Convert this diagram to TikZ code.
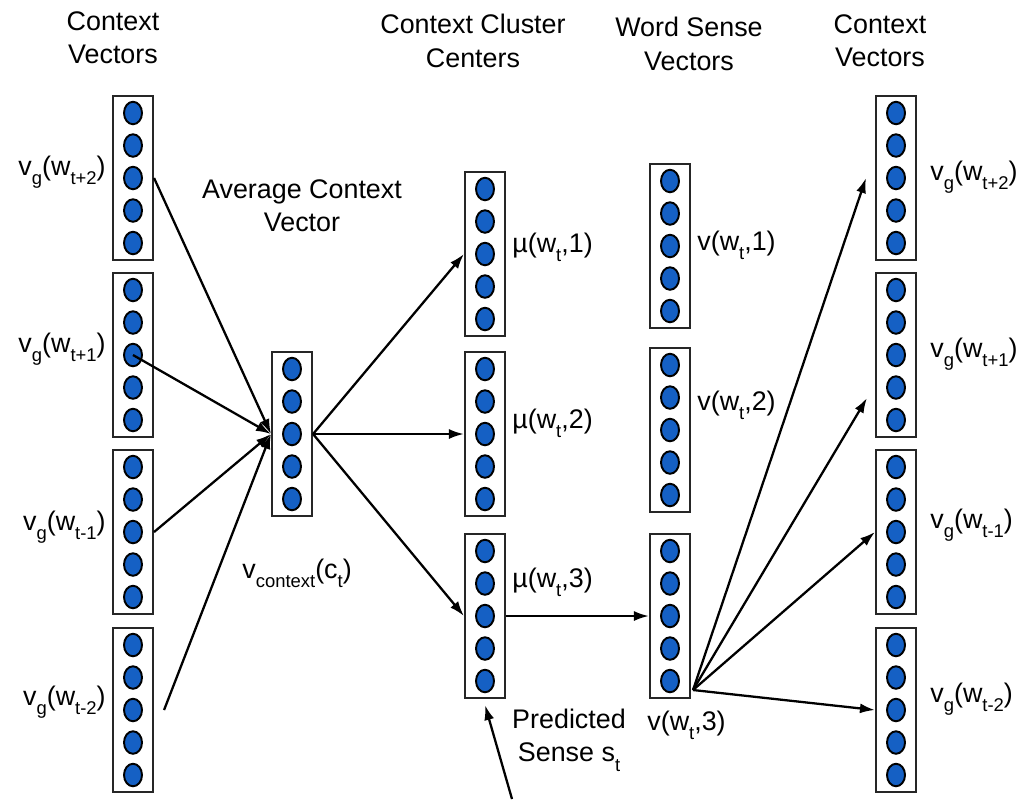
\documentclass[tikz,border=0pt]{standalone}
\usepackage{fontspec}
\setmainfont{Liberation Sans}
\usetikzlibrary{positioning,calc,arrows.meta,shapes.geometric}
\definecolor{unitblue}{RGB}{21,96,196}
\newcommand{\lowsub}[1]{\raisebox{-5.5pt}{\fontsize{10.5}{11}\selectfont #1}}
\tikzset{
	vecbox/.style={draw=black!85, line width=1.2pt, minimum width=0.8cm, minimum height=3.28cm, inner sep=0pt},
	unit/.style={ellipse, draw=black, line width=1.1pt, fill=unitblue, minimum width=0.36cm, minimum height=0.45cm, inner sep=0pt},
	arr/.style={-{Latex[length=0.3cm,width=0.2cm]}, line width=1.3pt},
	head/.style={align=center},
	lab/.style={inner sep=0pt},
}

\begin{document}
\begin{tikzpicture}[x=0.02cm, y=-0.02cm, font=\fontsize{15.3}{19}\selectfont]
	\useasboundingbox (0,0) rectangle (1026,799);
	% vector columns
	\foreach \n/\x/\y in {lc1/133/178, lc2/133/355, lc3/133/532, lc4/133/710,
		avg/292/434, mu1/485/254, mu2/485/434, mu3/485/616,
		se1/670/246, se2/670/430, se3/670/616,
		rc1/896/178, rc2/896/355, rc3/896/532, rc4/896/710} {
		\node[vecbox] (\n) at (\x,\y) {};
		\foreach \k in {1,...,5}
			\node[unit] (\n-\k) at (\x,{\y+32.5*(\k-3)}) {};
	}

	% headers
	\node[head] (hctx) at (113,38) {Context\\Vectors};
	\node[head] (havg) at (302,206) {Average Context\\Vector};
	\node[head] (hclu) at (473,41) {Context Cluster\\Centers};
	\node[head] (hsen) at (689,44) {Word Sense\\Vectors};
	\node[head] (hout) at (880,41) {Context\\Vectors};

	% labels
	\node[lab, anchor=base east] (vl1) at (106,175) {v\lowsub{g}(w\lowsub{t+2})};
	\node[lab, anchor=base east] (vl2) at (106,352) {v\lowsub{g}(w\lowsub{t+1})};
	\node[lab, anchor=base east] (vl3) at (106,530) {v\lowsub{g}(w\lowsub{t-1})};
	\node[lab, anchor=base east] (vl4) at (106,705) {v\lowsub{g}(w\lowsub{t-2})};
	\node[lab, anchor=base west] (vctx) at (242,578) {v\lowsub{context}(c\lowsub{t})};
	\node[lab, anchor=base west] (ml1) at (512,252) {µ(w\lowsub{t},1)};
	\node[lab, anchor=base west] (ml2) at (512,428) {µ(w\lowsub{t},2)};
	\node[lab, anchor=base west] (ml3) at (512,587) {µ(w\lowsub{t},3)};
	\node[lab, anchor=base west] (sl1) at (697,250) {v(w\lowsub{t},1)};
	\node[lab, anchor=base west] (sl2) at (697,410) {v(w\lowsub{t},2)};
	\node[lab, anchor=base west] (sl3) at (647,730) {v(w\lowsub{t},3)};
	\node[head] (pred) at (569,740) {Predicted\\Sense s\lowsub{t}};
	\node[lab, anchor=base west] (vr1) at (930,180) {v\lowsub{g}(w\lowsub{t+2})};
	\node[lab, anchor=base west] (vr2) at (930,357) {v\lowsub{g}(w\lowsub{t+1})};
	\node[lab, anchor=base west] (vr3) at (930,528) {v\lowsub{g}(w\lowsub{t-1})};
	\node[lab, anchor=base west] (vr4) at (930,702) {v\lowsub{g}(w\lowsub{t-2})};

	% averaging
	\draw[arr] (lc1.east) -- (avg.west);
	\draw[arr] (lc2-3.center) -- (avg.west);
	\draw[arr] (lc3.east) -- (avg.west);
	\draw[arr] ([xshift=0.2cm]lc4.east) -- (avg.west);

	% clusters and senses
	\draw[arr] (avg.east) -- (mu1.west);
	\draw[arr] (avg.east) -- (mu2.west);
	\draw[arr] (avg.east) -- (mu3.west);
	\draw[arr] (mu3.east) -- (se3.west);
	\coordinate (ps) at (512,799);
	\draw[arr] (ps) -- ([yshift=-0.12cm]mu3.south);

	% prediction of context
	\coordinate (fan) at (693,690);
	\draw[arr] (fan) -- ([xshift=-0.18cm]rc1.west);
	\draw[arr] (fan) -- ([xshift=-0.16cm,yshift=-0.86cm]rc2.west);
	\draw[arr] (fan) -- (rc3.west);
	\draw[arr] (fan) -- (rc4.west);
\end{tikzpicture}
\end{document}
